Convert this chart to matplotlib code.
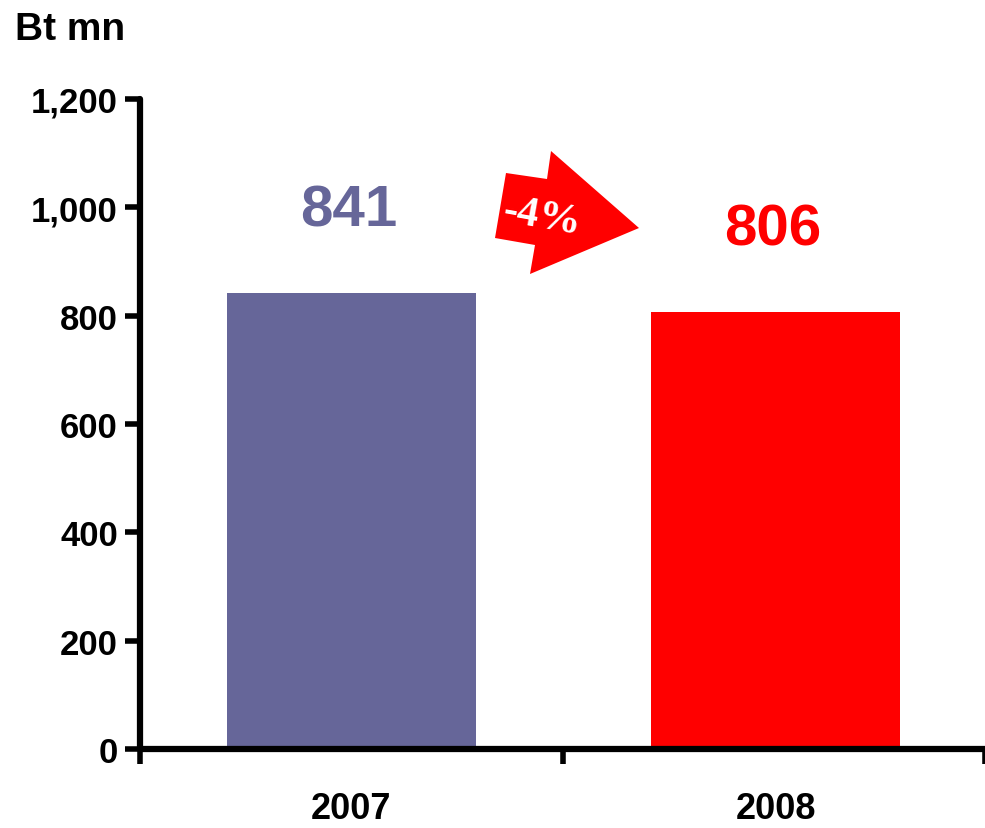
import matplotlib
matplotlib.use("Agg")
import matplotlib.pyplot as plt
from matplotlib.patches import Polygon

years = ["2007", "2008"]
values = [841, 806]
bar_colors = ["#666699", "#FF0000"]
change_label = "-4%"
y_ticks = [0, 200, 400, 600, 800, 1000, 1200]
unit_label = "Bt mn"

plt.rcParams['font.family'] = ['Liberation Sans', 'DejaVu Sans']

W, H = 985, 829
fig = plt.figure(figsize=(W / 100, H / 100), dpi=100)
ax = fig.add_axes([140 / W, 1 - 750 / H, 1 - 140 / W, (750 - 100) / H])

pos = [0.5, 1.505]
ax.bar(pos, values, width=0.59, color=bar_colors, zorder=1)

ax.set_xlim(0, 2)
ax.set_ylim(0, 1200)

for s in ["top", "right"]:
    ax.spines[s].set_visible(False)
for s in ["left", "bottom"]:
    ax.spines[s].set_linewidth(4.5)
    ax.spines[s].set_capstyle("round")
    ax.spines[s].set_zorder(3)

ax.set_yticks(y_ticks)
ax.set_yticklabels([f"{v:,}" for v in y_ticks], fontsize=25, fontweight="bold")
ax.tick_params(axis="y", direction="out", length=11, width=4, pad=5)

ax.set_xticks([0, 1, 2])
ax.set_xticklabels([])
ax.tick_params(axis="x", direction="out", length=11, width=4)
ax.set_xticks(pos, minor=True)
ax.set_xticklabels(years, minor=True, fontsize=26, fontweight="bold")
ax.tick_params(axis="x", which="minor", length=0, pad=30)

# value labels above bars
for x, v, c in zip(pos, values, bar_colors):
    ax.annotate(f"{v}", (x, v), xytext=(-2, 60), textcoords="offset points",
                ha="center", va="center", fontsize=42, fontweight="bold", color=c)

fig.text(15 / W, 1 - 30 / H, unit_label, fontsize=28, fontweight="bold",
         ha="left", va="center")

# change arrow
arrow_px = [(506, 174), (547, 180), (551, 152), (639, 229), (530, 275),
            (535, 246), (495, 239)]
arrow = Polygon([(x / W, 1 - y / H) for x, y in arrow_px], closed=True,
                transform=fig.transFigure, facecolor="#FF0000", edgecolor="none",
                zorder=5)
fig.patches.append(arrow)
fig.text(542 / W, 1 - 218 / H, change_label, family=["Liberation Serif", "DejaVu Serif"],
         fontsize=31, fontweight="bold", color="white", ha="center", va="center",
         rotation=-10, zorder=6)

fig.savefig("out.png", dpi=100)
